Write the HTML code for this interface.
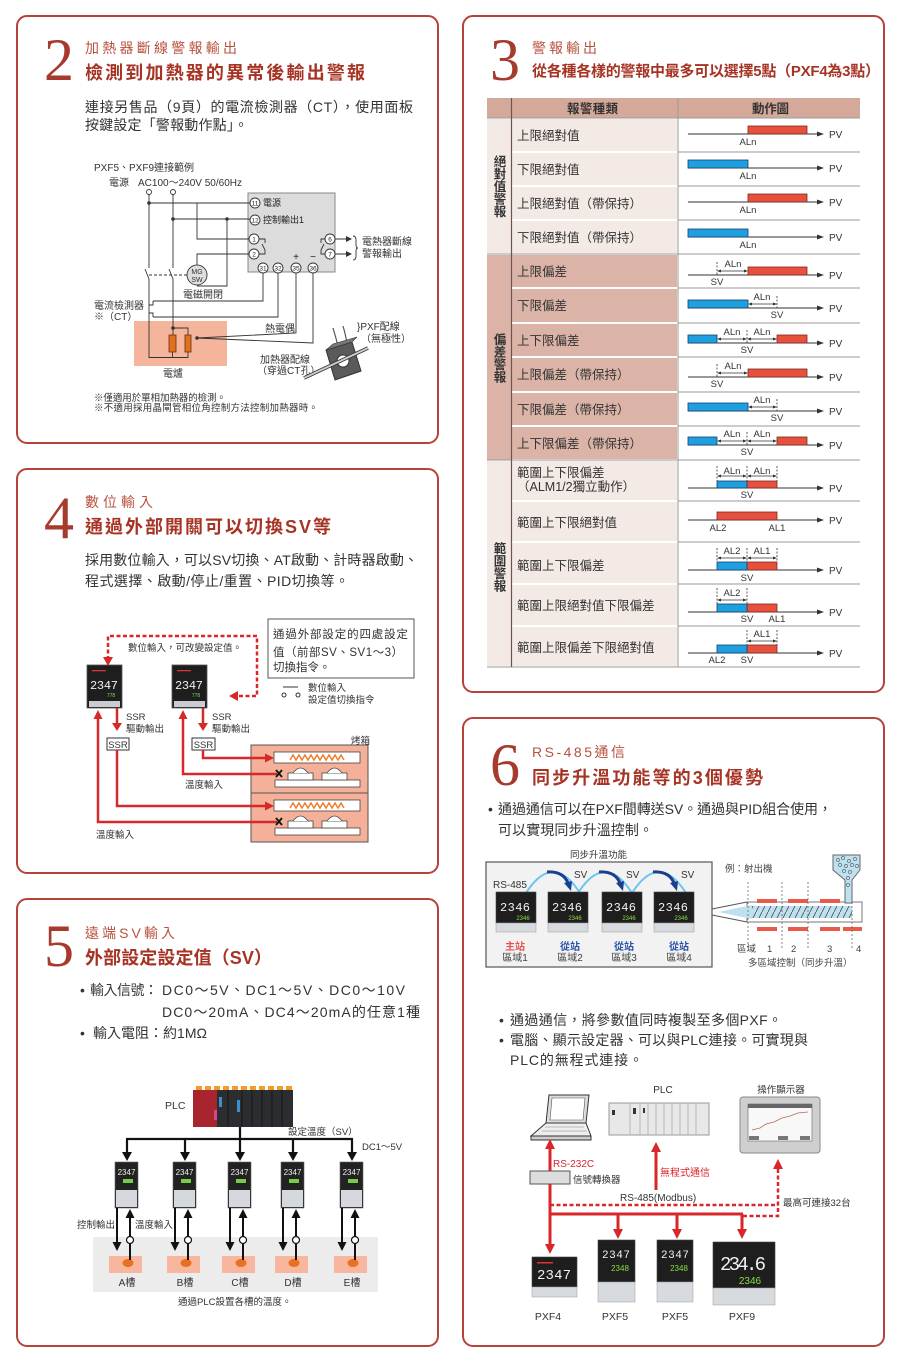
<!DOCTYPE html>
<html><head><meta charset="utf-8"><title>PXF</title>
<style>html,body{margin:0;padding:0;background:#fff}svg{display:block}</style></head>
<body>
<svg xmlns="http://www.w3.org/2000/svg" width="900" height="1363" viewBox="0 0 900 1363" font-family="'Liberation Sans','Noto Sans CJK TC',sans-serif">
<defs>
<pattern id="hatch" width="6" height="12" patternUnits="userSpaceOnUse"><path d="M0,12 L6,0" stroke="#444" stroke-width="0.8"/></pattern>
</defs>
<rect width="900" height="1363" fill="#fff"/>

<!-- panel frames -->
<g fill="none" stroke="#b5433a" stroke-width="2">
<rect x="17" y="16" width="421" height="427" rx="10"/>
<rect x="463" y="16" width="421" height="676" rx="10"/>
<rect x="17" y="469" width="421" height="404" rx="10"/>
<rect x="17" y="899" width="421" height="447" rx="10"/>
<rect x="463" y="718" width="421" height="628" rx="10"/>
</g>

<!-- big numbers -->
<g font-family="'Liberation Serif',serif" font-size="60" fill="#a53a2d">
<text x="44" y="80">2</text>
<text x="490" y="80">3</text>
<text x="44" y="538">4</text>
<text x="44" y="966">5</text>
<text x="490" y="785">6</text>
</g>

<!-- headings -->
<g font-size="14" fill="#b9513f">
<text x="85" y="53" textLength="152">加熱器斷線警報輸出</text>
<text x="532" y="53" textLength="65">警報輸出</text>
<text x="85" y="507" textLength="68">數位輸入</text>
<text x="85" y="938" textLength="90">遠端SV輸入</text>
<text x="532" y="757" textLength="93">RS-485通信</text>
</g>
<g font-weight="bold" fill="#a63324">
<text x="85" y="79" font-size="18" textLength="280">檢測到加熱器的異常後輸出警報</text>
<text x="532" y="76" font-size="15" textLength="348">從各種各樣的警報中最多可以選擇5點（PXF4為3點）</text>
<text x="85" y="533" font-size="18" textLength="246">通過外部開關可以切換SV等</text>
<text x="85" y="964" font-size="18" textLength="187">外部設定設定值（SV）</text>
<text x="532" y="784" font-size="18" textLength="231">同步升溫功能等的3個優勢</text>
</g>

<!-- body texts -->
<g font-size="14" fill="#333">
<text x="85" y="112" textLength="328">連接另售品（9頁）的電流檢測器（CT），使用面板</text>
<text x="85" y="130" textLength="163">按鍵設定「警報動作點」。</text>
<text x="85" y="565" textLength="333">採用數位輸入，可以SV切換、AT啟動、計時器啟動、</text>
<text x="85" y="586" textLength="264">程式選擇、啟動/停止/重置、PID切換等。</text>
<text x="80" y="995">•</text>
<text x="90" y="995" textLength="68">輸入信號：</text>
<text x="162" y="995" textLength="243">DC0～5V、DC1～5V、DC0～10V</text>
<text x="162" y="1017" textLength="258">DC0～20mA、DC4～20mA的任意1種</text>
<text x="80" y="1038">•</text>
<text x="93" y="1038" textLength="114">輸入電阻：約1MΩ</text>
<text x="488" y="814">•</text>
<text x="498" y="814" textLength="334">通過通信可以在PXF間轉送SV。通過與PID組合使用，</text>
<text x="498" y="835" textLength="155">可以實現同步升溫控制。</text>
<text x="499" y="1025">•</text>
<text x="510" y="1025" textLength="272">通過通信，將參數值同時複製至多個PXF。</text>
<text x="499" y="1045">•</text>
<text x="510" y="1045" textLength="298">電腦、顯示設定器、可以與PLC連接。可實現與</text>
<text x="510" y="1065" textLength="133">PLC的無程式連接。</text>
</g>

<!-- ================= PANEL 2 DIAGRAM ================= -->
<g font-size="10" fill="#333">
<text x="94" y="171">PXF5、PXF9連接範例</text>
<text x="109" y="186">電源</text>
<text x="138" y="186" textLength="104">AC100～240V 50/60Hz</text>
<text x="183" y="298">電磁開閉</text>
<text x="94" y="309">電流檢測器</text>
<text x="94" y="320">※（CT）</text>
<text x="265" y="332">熱電偶</text>
<text x="195" y="360">加熱器</text>
<text x="163" y="377">電爐</text>
<text x="362" y="245">電熱器斷線</text>
<text x="362" y="257">警報輸出</text>
<text x="357" y="330">}PXF配線</text>
<text x="361" y="342">（無極性）</text>
<text x="260" y="363">加熱器配線</text>
<text x="257" y="374">（穿過CT孔）</text>
</g>
<g font-size="9.5" fill="#333">
<text x="94" y="401" textLength="132">※僅適用於單相加熱器的檢測。</text>
<text x="94" y="411" textLength="224">※不適用採用晶閘管相位角控制方法控制加熱器時。</text>
</g>
<rect x="134" y="321" width="93" height="45" fill="#f5b49c"/>
<rect x="248" y="193" width="87" height="79" fill="#dcdcdc" stroke="#888"/>
<g stroke="#333" stroke-width="0.9" fill="none">
<circle cx="149" cy="192" r="2.5"/>
<circle cx="173" cy="192" r="2.5"/>
<path d="M149,194.5 V268 M145,269 L149,279 V357.5 H188 V352"/>
<path d="M173,194.5 V268 M169,269 L173,279 V335"/>
<path d="M173,328 H188 V335 M172.5,352 V357.5"/>
<path d="M149,203 H250 M197,203 V239 H249 M173,219 H250 M227,219 V286 H197 M249,254 H197 V265"/>
<path d="M149,275 H187" stroke-dasharray="3,2"/>
<path d="M263,273 V301 H153 M278,273 V317 H153 M153,301 v4 h-4 M153,317 v-4 h-4"/>
<path d="M296,273 V333 L197,338 M313,273 V343 L197,338"/>
<path d="M335,239 H348 M335,254 H348"/>
<path d="M259,239 H265 V243 M262,244 L265,250 V254 H259"/>
<path d="M325,239 H321 V243 M324,244 L321,250 V254 H325"/>
<path d="M353,236 q3,0 3,4 v5 q0,3 2,3 q-2,0 -2,3 v5 q0,4 -3,4"/>
</g>
<g fill="#333">
<polygon points="352,239 346,236 346,242"/>
<polygon points="352,254 346,251 346,257"/>
<circle cx="149" cy="203" r="1.8"/><circle cx="173" cy="219" r="1.8"/><circle cx="227" cy="219" r="1.8"/>
<circle cx="173" cy="328" r="1.8"/><circle cx="197" cy="338" r="1.8"/>
</g>
<rect x="169" y="335" width="7" height="17" fill="#e0701e" stroke="#6a3010" stroke-width="0.8"/>
<rect x="185" y="335" width="6" height="17" fill="#e0701e" stroke="#6a3010" stroke-width="0.8"/>
<circle cx="197" cy="275" r="10" fill="#dedede" stroke="#444"/>
<text x="197" y="274" font-size="7" text-anchor="middle" fill="#333">MG</text>
<text x="197" y="282" font-size="7" text-anchor="middle" fill="#333">SW</text>
<g stroke="#333" stroke-width="0.9" fill="#fff">
<circle cx="255" cy="203" r="5"/><circle cx="255" cy="220" r="5"/>
<circle cx="254" cy="239" r="5"/><circle cx="254" cy="254" r="5"/>
<circle cx="330" cy="239" r="5"/><circle cx="330" cy="254" r="5"/>
<circle cx="263" cy="268" r="5"/><circle cx="278" cy="268" r="5"/>
<circle cx="296" cy="268" r="5"/><circle cx="313" cy="268" r="5"/>
</g>
<g font-size="6.5" text-anchor="middle" fill="#222">
<text x="255" y="205.3">11</text><text x="255" y="222.3">12</text>
<text x="254" y="241.3">1</text><text x="254" y="256.3">2</text>
<text x="330" y="241.3">6</text><text x="330" y="256.3">7</text>
<text x="263" y="270.3">31</text><text x="278" y="270.3">32</text>
<text x="296" y="270.3">35</text><text x="313" y="270.3">36</text>
<text x="296" y="260" font-size="10">+</text><text x="313" y="260" font-size="10">−</text>
</g>
<g font-size="9" fill="#222">
<text x="263" y="206">電源</text>
<text x="263" y="223">控制輸出1</text>
</g>
<!-- CT device -->
<g>
<path d="M333,328 Q336,338 338,346 M343,326 Q346,336 347,344" stroke="#555" fill="none" stroke-width="1.2"/>
<path d="M326,350 L352,342 L361,371 L335,380 Z" fill="#5a5a5a" stroke="#333"/>
<path d="M326,350 L333,344 L357,337 L352,342 Z" fill="#777" stroke="#333" stroke-width="0.6"/>
<circle cx="343" cy="361" r="6" fill="#fff" stroke="#333"/>
<path d="M304,378 L368,348" stroke="#333" stroke-width="3.5"/>
<path d="M304,378 L368,348" stroke="#ccc" stroke-width="2"/>
</g>

<!-- ================= PANEL 3 TABLE ================= -->
<rect x="487" y="98" width="373" height="20" fill="#d5a99a"/>
<g fill="#f3eae6">
<rect x="487" y="119" width="24" height="134"/>
<rect x="487" y="461" width="24" height="205"/>
<rect x="512" y="119" width="165" height="32"/>
<rect x="512" y="153" width="165" height="32"/>
<rect x="512" y="187" width="165" height="32"/>
<rect x="512" y="221" width="165" height="32"/>
<rect x="512" y="461" width="165" height="39"/>
<rect x="512" y="502" width="165" height="39"/>
<rect x="512" y="543" width="165" height="40"/>
<rect x="512" y="585" width="165" height="40"/>
<rect x="512" y="627" width="165" height="39"/>
</g>
<g fill="#dbb4a7">
<rect x="487" y="255" width="24" height="205"/>
<rect x="512" y="255" width="165" height="32"/>
<rect x="512" y="289" width="165" height="33"/>
<rect x="512" y="324" width="165" height="32"/>
<rect x="512" y="358" width="165" height="33"/>
<rect x="512" y="393" width="165" height="32"/>
<rect x="512" y="427" width="165" height="32"/>
</g>
<g stroke="#9a9a9a" stroke-width="1">
<path d="M487,118 H860 M678,152 H860 M678,186 H860 M678,220 H860 M487,254 H860 M678,288 H860 M678,323 H860 M678,357 H860 M678,392 H860 M678,426 H860 M487,460 H860 M678,501 H860 M678,542 H860 M678,584 H860 M678,626 H860 M487,667 H860"/>
<path d="M678,98 V667"/>
</g>
<path d="M511.5,98 V667" stroke="#6b5550" stroke-width="1.2"/>
<g font-size="12.5" font-weight="bold" fill="#333">
<text x="567" y="113" textLength="51">報警種類</text>
<text x="752" y="113" textLength="37">動作圖</text>
</g>
<g font-size="12.5" font-weight="bold" fill="#333" text-anchor="middle">
<text x="500" y="166">絕</text><text x="500" y="178.5">對</text><text x="500" y="191">值</text><text x="500" y="203.5">警</text><text x="500" y="216">報</text>
<text x="500" y="344">偏</text><text x="500" y="356.5">差</text><text x="500" y="369">警</text><text x="500" y="381.5">報</text>
<text x="500" y="553">範</text><text x="500" y="565.5">圍</text><text x="500" y="578">警</text><text x="500" y="590.5">報</text>
</g>
<g font-size="12.5" fill="#333">
<text x="517" y="140">上限絕對值</text>
<text x="517" y="174">下限絕對值</text>
<text x="517" y="208">上限絕對值（帶保持）</text>
<text x="517" y="242">下限絕對值（帶保持）</text>
<text x="517" y="276">上限偏差</text>
<text x="517" y="310">下限偏差</text>
<text x="517" y="345">上下限偏差</text>
<text x="517" y="379">上限偏差（帶保持）</text>
<text x="517" y="414">下限偏差（帶保持）</text>
<text x="517" y="448">上下限偏差（帶保持）</text>
<text x="517" y="477">範圍上下限偏差</text>
<text x="517" y="491">（ALM1/2獨立動作）</text>
<text x="517" y="527">範圍上下限絕對值</text>
<text x="517" y="570">範圍上下限偏差</text>
<text x="517" y="610">範圍上限絕對值下限偏差</text>
<text x="517" y="652">範圍上限偏差下限絕對值</text>
</g>
<!-- axes -->
<g stroke="#333" stroke-width="0.9">
<path d="M688,134 H818 M688,168 H818 M688,202 H818 M688,237 H818 M688,275 H818 M688,308 H818 M688,343 H818 M688,377 H818 M688,411 H818 M688,445 H818 M688,488 H818 M688,520 H818 M688,570 H818 M688,612 H818 M688,653 H818"/>
</g>
<g fill="#333">
<polygon points="824,134 817,131.5 817,136.5"/><polygon points="824,168 817,165.5 817,170.5"/>
<polygon points="824,202 817,199.5 817,204.5"/><polygon points="824,237 817,234.5 817,239.5"/>
<polygon points="824,275 817,272.5 817,277.5"/><polygon points="824,308 817,305.5 817,310.5"/>
<polygon points="824,343 817,340.5 817,345.5"/><polygon points="824,377 817,374.5 817,379.5"/>
<polygon points="824,411 817,408.5 817,413.5"/><polygon points="824,445 817,442.5 817,447.5"/>
<polygon points="824,488 817,485.5 817,490.5"/><polygon points="824,520 817,517.5 817,522.5"/>
<polygon points="824,570 817,567.5 817,572.5"/><polygon points="824,612 817,609.5 817,614.5"/>
<polygon points="824,653 817,650.5 817,655.5"/>
</g>
<g font-size="10" fill="#333">
<text x="829" y="138">PV</text><text x="829" y="172">PV</text><text x="829" y="206">PV</text><text x="829" y="241">PV</text>
<text x="829" y="279">PV</text><text x="829" y="312">PV</text><text x="829" y="347">PV</text><text x="829" y="381">PV</text>
<text x="829" y="415">PV</text><text x="829" y="449">PV</text><text x="829" y="492">PV</text><text x="829" y="524">PV</text>
<text x="829" y="574">PV</text><text x="829" y="616">PV</text><text x="829" y="657">PV</text>
</g>
<!-- bars -->
<g fill="#e8503e" stroke="#7a2a20" stroke-width="0.8">
<rect x="748" y="126" width="59" height="8"/>
<rect x="748" y="194" width="59" height="8"/>
<rect x="748" y="267" width="59" height="8"/>
<rect x="777" y="335" width="30" height="8"/>
<rect x="748" y="369" width="59" height="8"/>
<rect x="777" y="437" width="30" height="8"/>
<rect x="747" y="481" width="30" height="7"/>
<rect x="717" y="512" width="60" height="8"/>
<rect x="747" y="562" width="30" height="8"/>
<rect x="747" y="604" width="30" height="8"/>
<rect x="747" y="645" width="30" height="8"/>
</g>
<g fill="#1e9fe0" stroke="#1a3f6a" stroke-width="0.8">
<rect x="688" y="160" width="60" height="8"/>
<rect x="688" y="229" width="60" height="8"/>
<rect x="688" y="300" width="60" height="8"/>
<rect x="688" y="335" width="29" height="8"/>
<rect x="688" y="403" width="60" height="8"/>
<rect x="688" y="437" width="29" height="8"/>
<rect x="717" y="481" width="30" height="7"/>
<rect x="717" y="562" width="30" height="8"/>
<rect x="717" y="604" width="30" height="8"/>
<rect x="717" y="645" width="30" height="8"/>
</g>
<!-- dashed markers -->
<g stroke="#333" stroke-width="0.8" stroke-dasharray="2,1.5">
<path d="M717,262 V276 M777,296 V309 M747,330 V344 M717,364 V378 M777,399 V412 M747,432 V446"/>
<path d="M717,466 V481 M747,466 V481 M777,466 V481"/>
<path d="M717,548 V562 M747,548 V562 M777,548 V562"/>
<path d="M717,588 V604 M747,588 V604"/>
<path d="M747,630 V645 M777,630 V645"/>
</g>
<!-- double arrows -->
<g stroke="#333" stroke-width="0.8">
<path d="M719,271 H746 M750,304 H775 M719,339 H745 M749,339 H775 M719,373 H746 M750,407 H775 M719,441 H745 M749,441 H775"/>
<path d="M719,476 H745 M749,476 H775 M719,558 H745 M749,558 H775 M719,600 H745 M749,641 H775"/>
</g>
<g fill="#333">
<polygon points="717,271 721,269.5 721,272.5"/><polygon points="748,271 744,269.5 744,272.5"/>
<polygon points="748,304 752,302.5 752,305.5"/><polygon points="777,304 773,302.5 773,305.5"/>
<polygon points="717,339 721,337.5 721,340.5"/><polygon points="747,339 743,337.5 743,340.5"/><polygon points="747,339 751,337.5 751,340.5"/><polygon points="777,339 773,337.5 773,340.5"/>
<polygon points="717,373 721,371.5 721,374.5"/><polygon points="748,373 744,371.5 744,374.5"/>
<polygon points="748,407 752,405.5 752,408.5"/><polygon points="777,407 773,405.5 773,408.5"/>
<polygon points="717,441 721,439.5 721,442.5"/><polygon points="747,441 743,439.5 743,442.5"/><polygon points="747,441 751,439.5 751,442.5"/><polygon points="777,441 773,439.5 773,442.5"/>
<polygon points="717,476 721,474.5 721,477.5"/><polygon points="747,476 743,474.5 743,477.5"/><polygon points="747,476 751,474.5 751,477.5"/><polygon points="777,476 773,474.5 773,477.5"/>
<polygon points="717,558 721,556.5 721,559.5"/><polygon points="747,558 743,556.5 743,559.5"/><polygon points="747,558 751,556.5 751,559.5"/><polygon points="777,558 773,556.5 773,559.5"/>
<polygon points="717,600 721,598.5 721,601.5"/><polygon points="747,600 743,598.5 743,601.5"/>
<polygon points="747,641 751,639.5 751,642.5"/><polygon points="777,641 773,639.5 773,642.5"/>
</g>
<g font-size="9.5" fill="#333" text-anchor="middle">
<text x="748" y="145">ALn</text><text x="748" y="179">ALn</text><text x="748" y="213">ALn</text><text x="748" y="248">ALn</text>
<text x="733" y="267">ALn</text><text x="717" y="285">SV</text>
<text x="762" y="300">ALn</text><text x="777" y="318">SV</text>
<text x="732" y="335">ALn</text><text x="762" y="335">ALn</text><text x="747" y="353">SV</text>
<text x="733" y="369">ALn</text><text x="717" y="387">SV</text>
<text x="762" y="403">ALn</text><text x="777" y="421">SV</text>
<text x="732" y="437">ALn</text><text x="762" y="437">ALn</text><text x="747" y="455">SV</text>
<text x="732" y="474">ALn</text><text x="762" y="474">ALn</text><text x="747" y="498">SV</text>
<text x="718" y="531">AL2</text><text x="777" y="531">AL1</text>
<text x="732" y="554">AL2</text><text x="762" y="554">AL1</text><text x="747" y="581">SV</text>
<text x="732" y="596">AL2</text><text x="747" y="622">SV</text><text x="777" y="622">AL1</text>
<text x="762" y="637">AL1</text><text x="717" y="663">AL2</text><text x="747" y="663">SV</text>
</g>

<!-- ================= PANEL 4 DIAGRAM ================= -->
<rect x="268" y="619" width="146" height="59" fill="#fff" stroke="#555" stroke-width="1"/>
<g font-size="11.5" fill="#333">
<text x="273" y="638" textLength="135">通過外部設定的四處設定</text>
<text x="273" y="656" textLength="130">值（前部SV、SV1～3）</text>
<text x="273" y="671">切換指令。</text>
</g>
<path d="M108,660 V636 H257 V696 H236" fill="none" stroke="#d9262b" stroke-width="2.5" stroke-dasharray="4,2.5"/>
<polygon points="103,657 113,657 108,666" fill="#d9262b"/>
<polygon points="229,696 238,691 238,701" fill="#d9262b"/>
<g font-size="9.5" fill="#333">
<text x="128" y="651">數位輸入，可改變設定值。</text>
<text x="308" y="691">數位輸入</text>
<text x="308" y="703">設定值切換指令</text>
<text x="126" y="720">SSR</text><text x="126" y="732">驅動輸出</text>
<text x="212" y="720">SSR</text><text x="212" y="732">驅動輸出</text>
<text x="351" y="744">烤箱</text>
<text x="185" y="788">溫度輸入</text>
<text x="96" y="838">溫度輸入</text>
</g>
<path d="M283,687 H298" stroke="#333" stroke-width="1"/>
<circle cx="284" cy="695" r="2" fill="#fff" stroke="#333"/>
<circle cx="298" cy="695" r="2" fill="#fff" stroke="#333"/>
<!-- controllers -->
<g>
<rect x="87" y="665" width="35" height="43" fill="#1e1e1e" stroke="#555" stroke-width="0.8"/>
<rect x="89" y="701" width="31" height="6" fill="#c9cdd2"/>
<rect x="92" y="670" width="14" height="1.3" fill="#d33"/>
<text x="104" y="689" font-size="12" fill="#f0f0f0" text-anchor="middle" font-family="'Liberation Mono',monospace" textLength="28">2347</text>
<text x="111" y="697" font-size="5" fill="#7d5" text-anchor="middle">778</text>
<rect x="172" y="665" width="35" height="43" fill="#1e1e1e" stroke="#555" stroke-width="0.8"/>
<rect x="174" y="701" width="31" height="6" fill="#c9cdd2"/>
<rect x="177" y="670" width="14" height="1.3" fill="#d33"/>
<text x="189" y="689" font-size="12" fill="#f0f0f0" text-anchor="middle" font-family="'Liberation Mono',monospace" textLength="28">2347</text>
<text x="196" y="697" font-size="5" fill="#7d5" text-anchor="middle">778</text>
</g>
<rect x="107" y="738" width="22" height="12" fill="#fff" stroke="#333"/>
<rect x="192" y="738" width="23" height="12" fill="#fff" stroke="#333"/>
<g font-size="9.5" fill="#333" text-anchor="middle">
<text x="118" y="748">SSR</text><text x="203.5" y="748">SSR</text>
</g>
<!-- oven -->
<rect x="251" y="745" width="117" height="97" fill="#f4b099" stroke="#555"/>
<path d="M251,793 H368" stroke="#555"/>
<g fill="#fff" stroke="#444" stroke-width="0.8">
<rect x="274" y="752" width="86" height="11"/>
<rect x="275" y="780" width="85" height="7"/>
<rect x="288" y="773" width="25" height="7"/><path d="M293,773 Q300.5,763 308,773"/>
<rect x="322" y="773" width="25" height="7"/><path d="M327,773 Q334.5,763 342,773"/>
<rect x="274" y="800" width="86" height="11"/>
<rect x="275" y="828" width="85" height="7"/>
<rect x="288" y="821" width="25" height="7"/><path d="M293,821 Q300.5,811 308,821"/>
<rect x="322" y="821" width="25" height="7"/><path d="M327,821 Q334.5,811 342,821"/>
</g>
<g fill="none" stroke="#f08030" stroke-width="1.5">
<polyline points="290,760 293,755 296,760 299,755 302,760 305,755 308,760 311,755 314,760 317,755 320,760 323,755 326,760 329,755 332,760 335,755 338,760 341,755 344,760"/>
<polyline points="290,808 293,803 296,808 299,803 302,808 305,803 308,808 311,803 314,808 317,803 320,808 323,803 326,808 329,803 332,808 335,803 338,808 341,803 344,808"/>
</g>
<g stroke="#d42a2a" stroke-width="2.5" fill="none">
<path d="M117,708 V724"/><path d="M203,708 V724"/>
<path d="M203,750 V758 H266"/>
<path d="M277,774 H183 V718"/>
<path d="M117,750 V806 H266"/>
<path d="M277,822 H98 V718"/>
</g>
<g fill="#d42a2a">
<polygon points="117,731 112,723 122,723"/><polygon points="203,731 198,723 208,723"/>
<polygon points="274,758 265,753.5 265,762.5"/><polygon points="274,806 265,801.5 265,810.5"/>
<polygon points="183,710 178.5,719 187.5,719"/><polygon points="98,710 93.5,719 102.5,719"/>
</g>
<g stroke="#111" stroke-width="1.8">
<path d="M276,770 l6,7 M282,770 l-6,7"/>
<path d="M276,818 l6,7 M282,818 l-6,7"/>
</g>

<!-- ================= PANEL 5 DIAGRAM ================= -->
<rect x="93" y="1237" width="285" height="55" fill="#ececec"/>
<!-- PLC -->
<g>
<rect x="215" y="1090" width="78" height="37" fill="#2b2d30"/>
<rect x="193" y="1090" width="24" height="37" fill="#a8242e"/>
<g fill="#f59a2a">
<rect x="196" y="1086" width="6" height="4"/><rect x="205" y="1086" width="6" height="4"/><rect x="214" y="1086" width="6" height="4"/>
<rect x="223" y="1086" width="6" height="4"/><rect x="232" y="1086" width="6" height="4"/><rect x="241" y="1086" width="6" height="4"/>
<rect x="250" y="1086" width="6" height="4"/><rect x="259" y="1086" width="6" height="4"/><rect x="268" y="1086" width="6" height="4"/>
<rect x="277" y="1086" width="6" height="4"/><rect x="286" y="1086" width="6" height="4"/>
</g>
<path d="M228,1090 V1127 M242,1090 V1127 M252,1090 V1127 M262,1090 V1127 M272,1090 V1127 M282,1090 V1127" stroke="#111" stroke-width="0.8"/>
<rect x="219" y="1097" width="3" height="10" fill="#3a8fd0"/><rect x="237" y="1100" width="3" height="12" fill="#3a8fd0"/>
<rect x="214" y="1110" width="3" height="10" fill="#d04a8a"/>
</g>
<text x="165" y="1109" font-size="10.5" fill="#333">PLC</text>
<g font-size="9.5" fill="#333">
<text x="288" y="1135">設定溫度（SV）</text>
<text x="362" y="1150">DC1～5V</text>
<text x="77" y="1228">控制輸出</text>
<text x="135" y="1228">溫度輸入</text>
<text x="178" y="1305">通過PLC設置各槽的溫度。</text>
</g>
<g stroke="#111" stroke-width="2.2" fill="none">
<path d="M240,1127 V1139 M126,1139 H353"/>
<path d="M127,1139 V1153 M185,1139 V1153 M240,1139 V1153 M293,1139 V1153 M352,1139 V1153"/>
</g>
<g fill="#111">
<polygon points="127,1161 122,1152 132,1152"/><polygon points="185,1161 180,1152 190,1152"/>
<polygon points="240,1161 235,1152 245,1152"/><polygon points="293,1161 288,1152 298,1152"/>
<polygon points="352,1161 347,1152 357,1152"/>
</g>
<!-- controllers & tanks -->
<g>
<rect x="115" y="1162" width="23" height="46" fill="#222" stroke="#666" stroke-width="0.6"/>
<rect x="116" y="1190" width="21" height="17" fill="#d5d8dc"/>
<text x="126.5" y="1175" font-size="8" fill="#eee" text-anchor="middle">2347</text>
<rect x="123" y="1179" width="10" height="4" fill="#7c4"/>
<rect x="109" y="1256" width="33" height="17" fill="#f7b69d"/>
<ellipse cx="128" cy="1263" rx="5.5" ry="4" fill="#e8701f"/>
</g>
<g>
<rect x="173" y="1162" width="23" height="46" fill="#222" stroke="#666" stroke-width="0.6"/>
<rect x="174" y="1190" width="21" height="17" fill="#d5d8dc"/>
<text x="184.5" y="1175" font-size="8" fill="#eee" text-anchor="middle">2347</text>
<rect x="181" y="1179" width="10" height="4" fill="#7c4"/>
<rect x="167" y="1256" width="33" height="17" fill="#f7b69d"/>
<ellipse cx="186" cy="1263" rx="5.5" ry="4" fill="#e8701f"/>
</g>
<g>
<rect x="228" y="1162" width="23" height="46" fill="#222" stroke="#666" stroke-width="0.6"/>
<rect x="229" y="1190" width="21" height="17" fill="#d5d8dc"/>
<text x="239.5" y="1175" font-size="8" fill="#eee" text-anchor="middle">2347</text>
<rect x="236" y="1179" width="10" height="4" fill="#7c4"/>
<rect x="222" y="1256" width="33" height="17" fill="#f7b69d"/>
<ellipse cx="241" cy="1263" rx="5.5" ry="4" fill="#e8701f"/>
</g>
<g>
<rect x="281" y="1162" width="23" height="46" fill="#222" stroke="#666" stroke-width="0.6"/>
<rect x="282" y="1190" width="21" height="17" fill="#d5d8dc"/>
<text x="292.5" y="1175" font-size="8" fill="#eee" text-anchor="middle">2347</text>
<rect x="289" y="1179" width="10" height="4" fill="#7c4"/>
<rect x="275" y="1256" width="33" height="17" fill="#f7b69d"/>
<ellipse cx="294" cy="1263" rx="5.5" ry="4" fill="#e8701f"/>
</g>
<g>
<rect x="340" y="1162" width="23" height="46" fill="#222" stroke="#666" stroke-width="0.6"/>
<rect x="341" y="1190" width="21" height="17" fill="#d5d8dc"/>
<text x="351.5" y="1175" font-size="8" fill="#eee" text-anchor="middle">2347</text>
<rect x="348" y="1179" width="10" height="4" fill="#7c4"/>
<rect x="334" y="1256" width="33" height="17" fill="#f7b69d"/>
<ellipse cx="353" cy="1263" rx="5.5" ry="4" fill="#e8701f"/>
</g>
<g stroke="#111" stroke-width="2" fill="none">
<path d="M117,1208 V1243 M130,1260 V1217"/>
<path d="M175,1208 V1243 M188,1260 V1217"/>
<path d="M230,1208 V1243 M243,1260 V1217"/>
<path d="M283,1208 V1243 M296,1260 V1217"/>
<path d="M342,1208 V1243 M355,1260 V1217"/>
</g>
<g fill="#111">
<polygon points="117,1251 112.5,1242 121.5,1242"/><polygon points="130,1209 125.5,1218 134.5,1218"/>
<polygon points="175,1251 170.5,1242 179.5,1242"/><polygon points="188,1209 183.5,1218 192.5,1218"/>
<polygon points="230,1251 225.5,1242 234.5,1242"/><polygon points="243,1209 238.5,1218 247.5,1218"/>
<polygon points="283,1251 278.5,1242 287.5,1242"/><polygon points="296,1209 291.5,1218 300.5,1218"/>
<polygon points="342,1251 337.5,1242 346.5,1242"/><polygon points="355,1209 350.5,1218 359.5,1218"/>
</g>
<g fill="#fff" stroke="#111" stroke-width="1.2">
<circle cx="130" cy="1240" r="3.5"/><circle cx="188" cy="1240" r="3.5"/><circle cx="243" cy="1240" r="3.5"/><circle cx="296" cy="1240" r="3.5"/><circle cx="355" cy="1240" r="3.5"/>
</g>
<g font-size="10" fill="#333" text-anchor="middle">
<text x="127" y="1286">A槽</text><text x="185" y="1286">B槽</text><text x="240" y="1286">C槽</text><text x="293" y="1286">D槽</text><text x="352" y="1286">E槽</text>
</g>

<!-- ================= PANEL 6 SYNC DIAGRAM ================= -->
<text x="570" y="858" font-size="9.5" fill="#333">同步升溫功能</text>
<rect x="486" y="862" width="226" height="105" fill="#f2f2f2" stroke="#555" stroke-width="1.2"/>
<text x="493" y="888" font-size="10" fill="#333">RS-485</text>
<g fill="none" stroke="#6cc5ee" stroke-width="2">
<path d="M526,893 Q553,851 580,893"/>
<path d="M578,893 Q605,851 632,893"/>
<path d="M632,893 Q659,851 686,893"/>
</g>
<g fill="none" stroke="#1a3f8f" stroke-width="3">
<path d="M547,872 Q563,871 568,883"/>
<path d="M599,872 Q615,871 620,883"/>
<path d="M653,872 Q669,871 674,883"/>
</g>
<g fill="#1a3f8f">
<polygon points="571,891 564,883 572,881"/>
<polygon points="623,891 616,883 624,881"/>
<polygon points="677,891 670,883 678,881"/>
</g>
<g font-size="10" fill="#333">
<text x="574" y="878">SV</text><text x="626" y="878">SV</text><text x="681" y="878">SV</text>
</g>
<g>
<rect x="496" y="892" width="40" height="31" fill="#1e1e1e" stroke="#444" stroke-width="0.6"/>
<rect x="496" y="923" width="40" height="9" fill="#d7dade" stroke="#999" stroke-width="0.5"/>
<rect x="548" y="892" width="40" height="31" fill="#1e1e1e" stroke="#444" stroke-width="0.6"/>
<rect x="548" y="923" width="40" height="9" fill="#d7dade" stroke="#999" stroke-width="0.5"/>
<rect x="602" y="892" width="40" height="31" fill="#1e1e1e" stroke="#444" stroke-width="0.6"/>
<rect x="602" y="923" width="40" height="9" fill="#d7dade" stroke="#999" stroke-width="0.5"/>
<rect x="654" y="892" width="40" height="31" fill="#1e1e1e" stroke="#444" stroke-width="0.6"/>
<rect x="654" y="923" width="40" height="9" fill="#d7dade" stroke="#999" stroke-width="0.5"/>
</g>
<g font-size="12" fill="#f2f2f2" text-anchor="middle" font-family="'Liberation Mono',monospace">
<text x="515" y="911" textLength="30">2346</text><text x="567" y="911" textLength="30">2346</text>
<text x="621" y="911" textLength="30">2346</text><text x="673" y="911" textLength="30">2346</text>
</g>
<g font-size="6" fill="#8d4" text-anchor="middle">
<text x="523" y="920">2346</text><text x="575" y="920">2346</text><text x="629" y="920">2346</text><text x="681" y="920">2346</text>
</g>
<g font-size="10" font-weight="bold" text-anchor="middle">
<text x="515" y="950" fill="#e85050">主站</text>
<text x="570" y="950" fill="#2850a8">從站</text>
<text x="624" y="950" fill="#2850a8">從站</text>
<text x="679" y="950" fill="#2850a8">從站</text>
</g>
<g font-size="10" fill="#444" text-anchor="middle">
<text x="515" y="961">區域1</text><text x="570" y="961">區域2</text><text x="624" y="961">區域3</text><text x="679" y="961">區域4</text>
</g>
<!-- injection machine -->
<path d="M712,909 L747,902 M712,915 L747,922" stroke="#555" stroke-width="1" fill="none"/>
<rect x="747" y="902" width="115" height="20" fill="#fff" stroke="#777"/>
<polygon points="718,912 752,905 752,919" fill="#bfe0ef"/>
<rect x="752" y="906" width="100" height="12" fill="#bfe0ef"/>
<rect x="752" y="906" width="100" height="12" fill="url(#hatch)"/>
<path d="M833,855 H860 V870 L852,880 V903 H845 V880 L833,870 Z" fill="#bfe0ef" stroke="#666"/>
<g fill="none" stroke="#555" stroke-width="0.6">
<circle cx="838" cy="860" r="1.6"/><circle cx="843" cy="858" r="1.6"/><circle cx="849" cy="861" r="1.6"/><circle cx="855" cy="859" r="1.6"/>
<circle cx="840" cy="865" r="1.6"/><circle cx="846" cy="866" r="1.6"/><circle cx="852" cy="865" r="1.6"/><circle cx="857" cy="866" r="1.6"/>
<circle cx="844" cy="871" r="1.6"/><circle cx="850" cy="872" r="1.6"/><circle cx="848" cy="878" r="1.6"/><circle cx="848" cy="885" r="1.6"/>
</g>
<g fill="#e85a4a">
<rect x="757" y="899" width="20" height="4"/><rect x="788" y="899" width="20" height="4"/><rect x="820" y="899" width="20" height="4"/>
<rect x="757" y="927" width="20" height="4"/><rect x="788" y="927" width="20" height="4"/><rect x="820" y="927" width="20" height="4"/><rect x="843" y="927" width="19" height="4"/>
</g>
<g stroke="#666" stroke-width="0.8" stroke-dasharray="2,2">
<path d="M748,882 V950 M782,882 V950 M808,882 V950 M852,882 V950"/>
</g>
<g font-size="9.5" fill="#444">
<text x="725" y="872">例：射出機</text>
<text x="737" y="952">區域</text>
<text x="767" y="952">1</text><text x="791" y="952">2</text><text x="827" y="952">3</text><text x="856" y="952">4</text>
<text x="748" y="966">多區域控制（同步升溫）</text>
</g>

<!-- ================= PANEL 6 NETWORK ================= -->
<g font-size="10" fill="#333">
<text x="663" y="1093" text-anchor="middle">PLC</text>
<text x="781" y="1093" text-anchor="middle" font-size="9.5">操作顯示器</text>
<text x="573" y="1183" font-size="9.5">信號轉換器</text>
<text x="620" y="1201">RS-485(Modbus)</text>
<text x="783" y="1206" font-size="9.5">最高可連接32台</text>
</g>
<g font-size="10" fill="#d9262b">
<text x="553" y="1167">RS-232C</text>
<text x="660" y="1176">無程式通信</text>
</g>
<!-- laptop -->
<path d="M549,1095 L589,1095 L586,1123 L546,1123 Z" fill="#ddd" stroke="#333"/>
<path d="M552,1098 L585,1098 L583,1120 L550,1120 Z" fill="#fff" stroke="#555" stroke-width="0.6"/>
<path d="M546,1123 L586,1123 L591,1136 L531,1136 Z" fill="#eee" stroke="#333"/>
<path d="M531,1136 H591 V1140 H531 Z" fill="#ccc" stroke="#333"/>
<path d="M545,1127 H584 M542,1131 H587" stroke="#888" stroke-width="0.6"/>
<!-- PLC -->
<rect x="609" y="1103" width="100" height="32" fill="#e8e8e8" stroke="#999"/>
<path d="M630,1103 V1135 M640,1103 V1135 M648,1103 V1135 M656,1103 V1135 M664,1103 V1135 M672,1103 V1135 M680,1103 V1135 M688,1103 V1135 M696,1103 V1135" stroke="#aaa" stroke-width="0.8"/>
<rect x="612" y="1110" width="3" height="5" fill="#333"/><rect x="633" y="1108" width="3" height="6" fill="#333"/><rect x="643" y="1108" width="2" height="5" fill="#333"/>
<!-- display -->
<rect x="740" y="1097" width="80" height="56" rx="3" fill="#cfcfcf" stroke="#888"/>
<rect x="748" y="1104" width="64" height="37" fill="#f8f8f8" stroke="#666" stroke-width="0.6"/>
<rect x="748" y="1104" width="64" height="4" fill="#666"/>
<polyline points="752,1130 760,1128 766,1124 774,1122 782,1118 790,1116 798,1113 808,1112" fill="none" stroke="#b07050" stroke-width="0.8"/>
<rect x="749" y="1136" width="10" height="4" fill="#777"/><rect x="778" y="1136" width="10" height="4" fill="#777"/><rect x="800" y="1136" width="10" height="4" fill="#777"/>
<!-- converter -->
<rect x="530" y="1171" width="40" height="13" fill="#ddd" stroke="#555"/>
<!-- red lines -->
<g stroke="#d9262b" stroke-width="3" fill="none">
<path d="M550,1171 V1147"/>
<path d="M550,1184 V1246"/>
<path d="M550,1214 H743"/>
<path d="M618,1214 V1231 M677,1214 V1231 M742,1214 V1231"/>
<path d="M656,1190 V1150"/>
</g>
<g stroke="#d9262b" stroke-width="2.5" fill="none" stroke-dasharray="4,2.5">
<path d="M550,1205 H778"/>
<path d="M743,1216 H778 V1167"/>
</g>
<g fill="#d9262b">
<polygon points="550,1139 545,1149 555,1149"/>
<polygon points="550,1254 545,1244 555,1244"/>
<polygon points="618,1239 613,1229 623,1229"/>
<polygon points="677,1239 672,1229 682,1229"/>
<polygon points="742,1239 737,1229 747,1229"/>
<polygon points="656,1142 651,1152 661,1152"/>
<polygon points="778,1159 773,1169 783,1169"/>
</g>
<!-- controllers -->
<rect x="532" y="1257" width="45" height="30" fill="#1e1e1e" stroke="#444" stroke-width="0.6"/>
<rect x="532" y="1287" width="45" height="10" fill="#d7dade" stroke="#999" stroke-width="0.5"/>
<rect x="537" y="1262" width="16" height="1.5" fill="#d33"/>
<text x="554" y="1279" font-size="14" fill="#f0f0f0" text-anchor="middle" font-family="'Liberation Mono',monospace" textLength="34">2347</text>
<rect x="598" y="1240" width="37" height="42" fill="#1e1e1e" stroke="#444" stroke-width="0.6"/>
<rect x="598" y="1282" width="37" height="20" fill="#d7dade" stroke="#999" stroke-width="0.5"/>
<text x="616" y="1258" font-size="11" fill="#f0f0f0" text-anchor="middle" font-family="'Liberation Mono',monospace" textLength="28">2347</text>
<text x="620" y="1271" font-size="8" fill="#8d4" text-anchor="middle">2348</text>
<rect x="657" y="1240" width="36" height="42" fill="#1e1e1e" stroke="#444" stroke-width="0.6"/>
<rect x="657" y="1282" width="36" height="20" fill="#d7dade" stroke="#999" stroke-width="0.5"/>
<text x="675" y="1258" font-size="11" fill="#f0f0f0" text-anchor="middle" font-family="'Liberation Mono',monospace" textLength="28">2347</text>
<text x="679" y="1271" font-size="8" fill="#8d4" text-anchor="middle">2348</text>
<rect x="713" y="1242" width="62" height="46" fill="#1e1e1e" stroke="#444" stroke-width="0.6"/>
<rect x="713" y="1288" width="62" height="17" fill="#d7dade" stroke="#999" stroke-width="0.5"/>
<text x="743" y="1270" font-size="19" fill="#f0f0f0" text-anchor="middle" font-family="'Liberation Mono',monospace" textLength="46">234.6</text>
<text x="750" y="1284" font-size="10" fill="#8d4" text-anchor="middle">2346</text>
<g font-size="10.5" fill="#333" text-anchor="middle">
<text x="548" y="1320">PXF4</text><text x="615" y="1320">PXF5</text><text x="675" y="1320">PXF5</text><text x="742" y="1320">PXF9</text>
</g>
</svg>
</body></html>
